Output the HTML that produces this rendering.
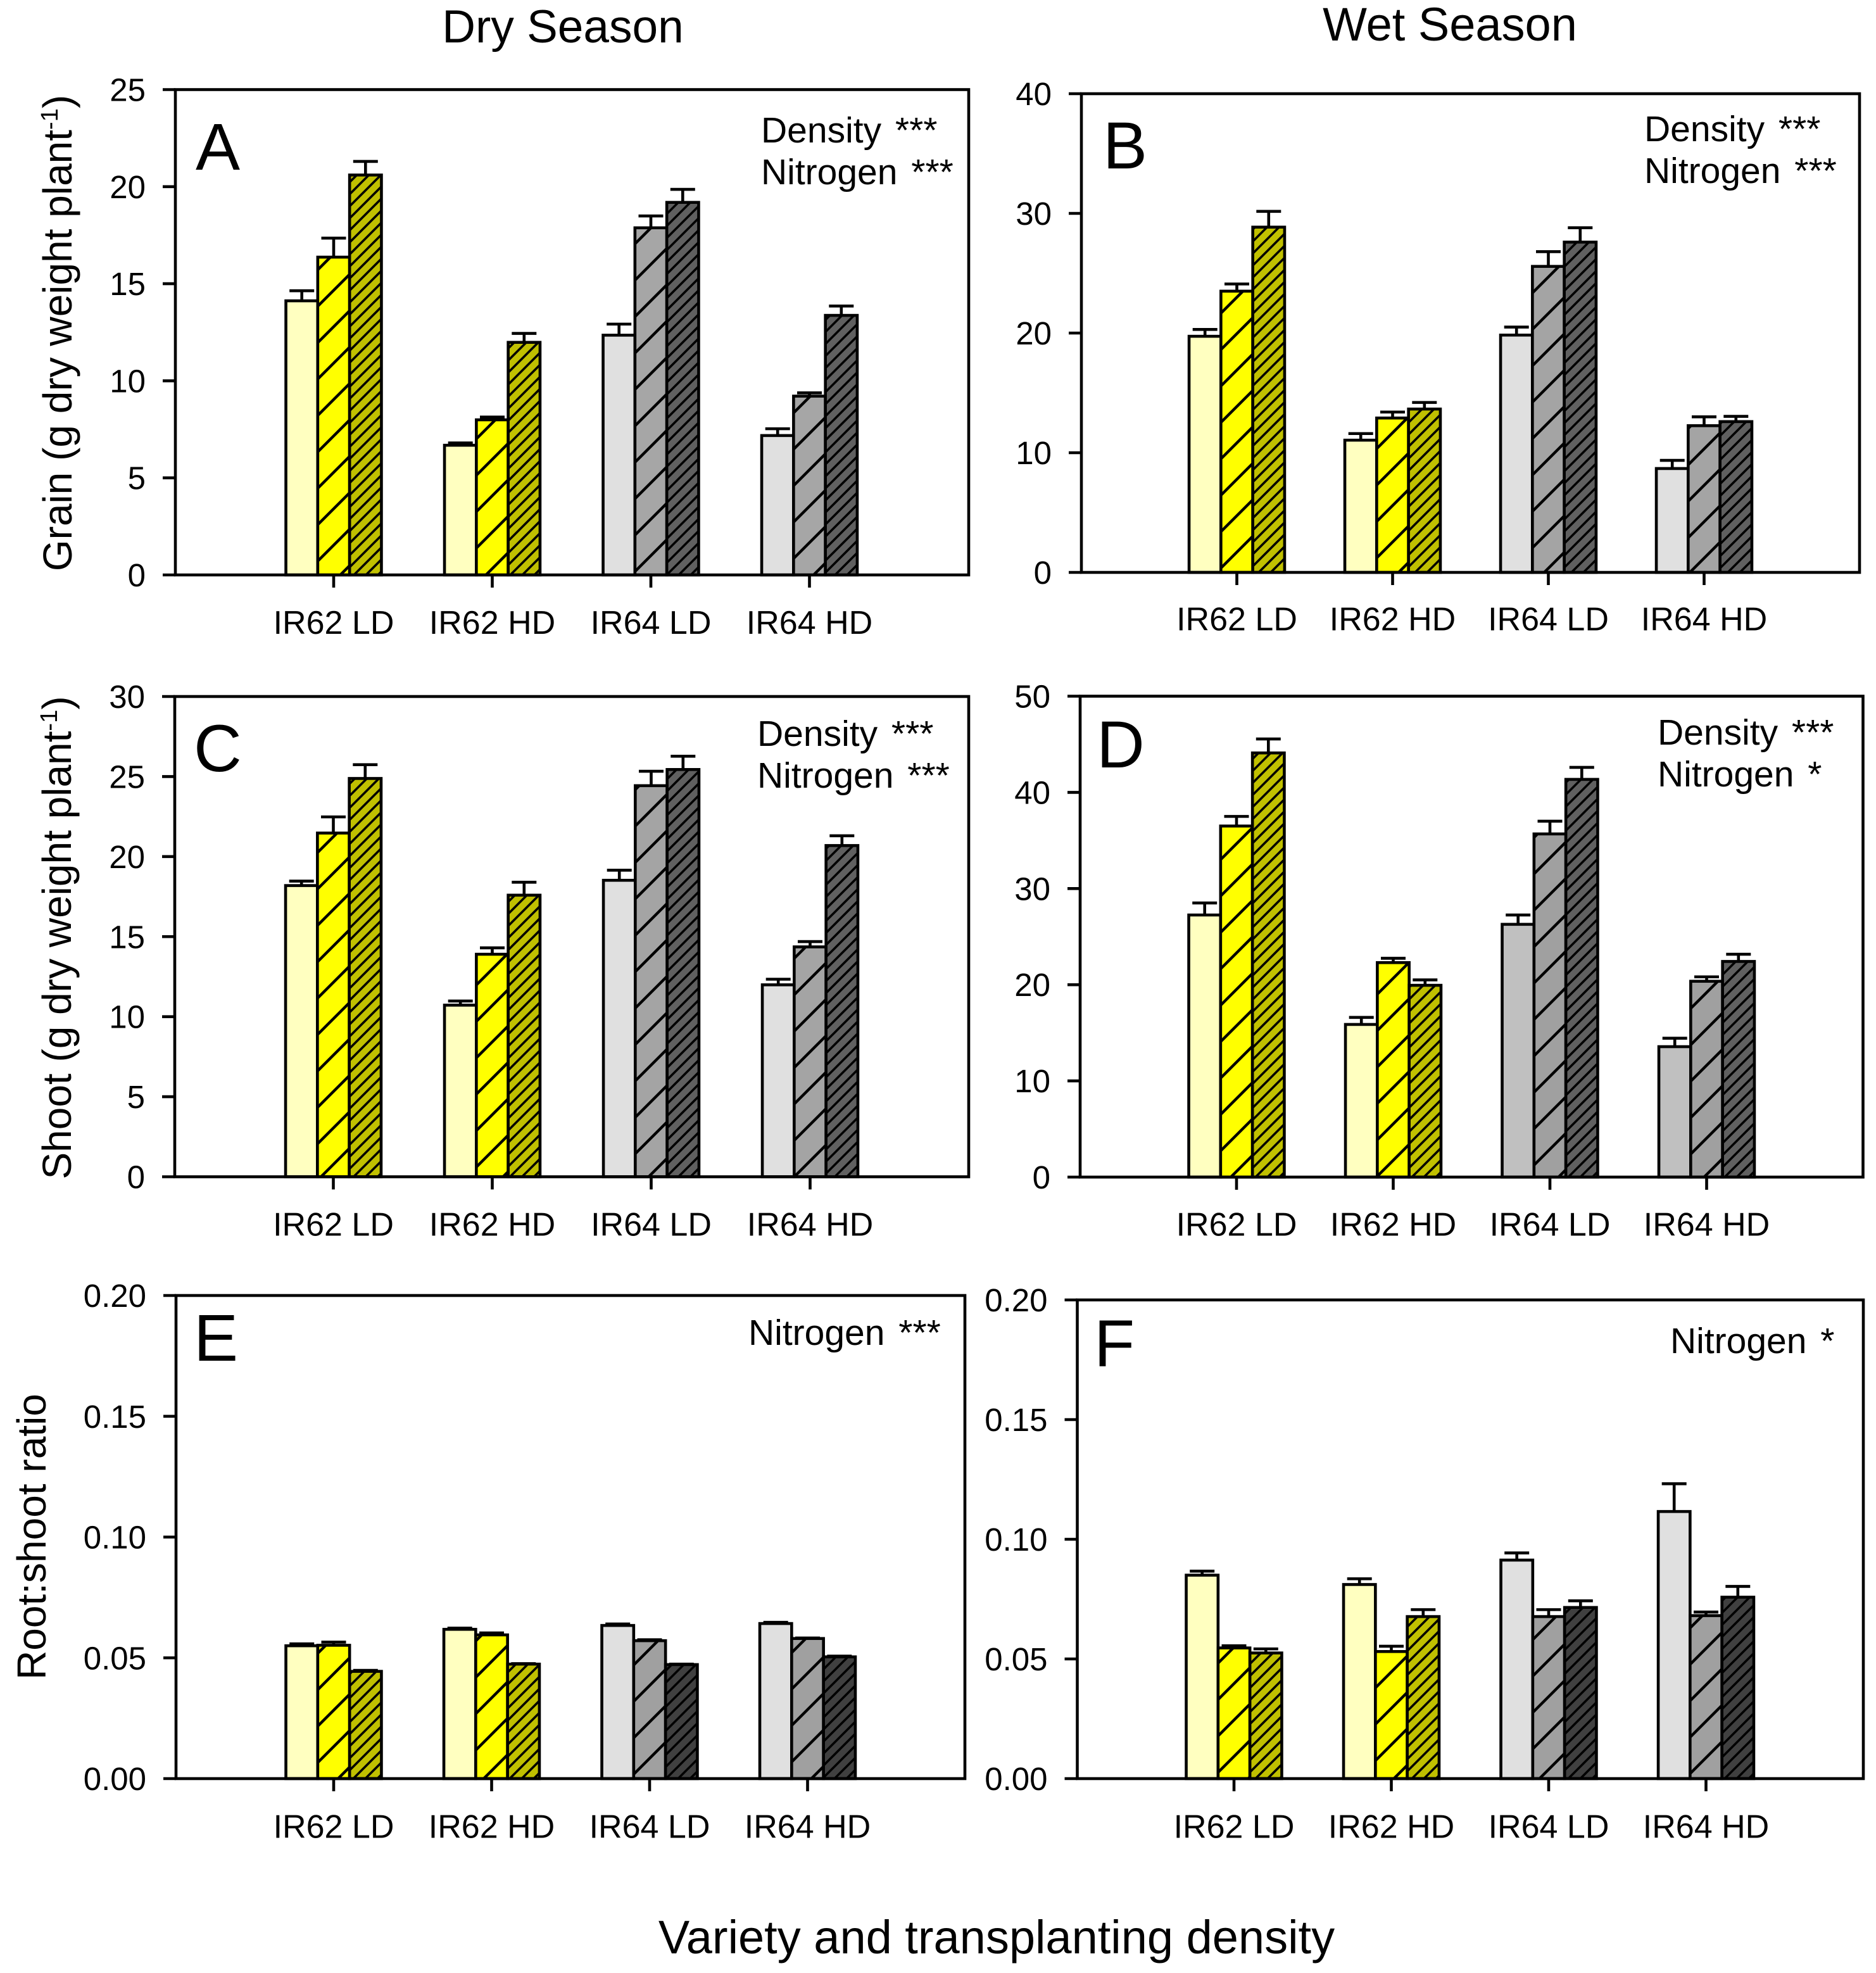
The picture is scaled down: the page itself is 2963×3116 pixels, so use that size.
<!DOCTYPE html>
<html lang="en">
<head>
<meta charset="utf-8">
<title>Grain, shoot and root:shoot ratio by variety and density</title>
<style>
html,body{margin:0;padding:0;background:#fff;width:2963px;height:3116px;overflow:hidden}
svg{display:block;position:absolute;left:0;top:0}
text{font-family:"Liberation Sans",Arial,sans-serif;fill:#000}
</style>
</head>
<body>
<svg id="figure" xmlns="http://www.w3.org/2000/svg" width="2963" height="3116" viewBox="0 0 2963 3116">
<rect width="2963" height="3116" fill="#fff"/>
<defs id="patterns"></defs>
<text x="889" y="67" font-size="73" text-anchor="middle">Dry Season</text>
<text x="2290" y="64" font-size="74" text-anchor="middle">Wet Season</text>
<text transform="translate(113 526) rotate(-90)" font-size="64" text-anchor="middle">Grain (g dry weight plant<tspan font-size="38" dy="-22">-1</tspan><tspan dy="22">)</tspan></text>
<text transform="translate(112 1481) rotate(-90)" font-size="64" text-anchor="middle">Shoot (g dry weight plant<tspan font-size="38" dy="-22">-1</tspan><tspan dy="22">)</tspan></text>
<text transform="translate(72 2427) rotate(-90)" font-size="64" text-anchor="middle">Root:shoot ratio</text>
<text x="1574" y="3085" font-size="74" text-anchor="middle">Variety and transplanting density</text>
<g id="panels"></g>
</svg>
<script>
// ---- categories and tick labels ----
const categories = ['IR62 LD', 'IR62 HD', 'IR64 LD', 'IR64 HD'];
const ticksA = ['0', '5', '10', '15', '20', '25'];
const ticksB = ['0', '10', '20', '30', '40'];
const ticksC = ['0', '5', '10', '15', '20', '25', '30'];
const ticksD = ['0', '10', '20', '30', '40', '50'];
const ticksE = ['0.00', '0.05', '0.10', '0.15', '0.20'];
const ticksF = ['0.00', '0.05', '0.10', '0.15', '0.20'];

// ---- bar means (per category: three nitrogen levels) ----
const meansA = [[14.12, 16.37, 20.6], [6.68, 7.99, 11.98], [12.35, 17.88, 19.19], [7.18, 9.21, 13.37]];
const meansB = [[19.73, 23.5, 28.85], [11.05, 12.9, 13.65], [19.83, 25.57, 27.6], [8.68, 12.26, 12.6]];
const meansC = [[18.19, 21.47, 24.88], [10.72, 13.9, 17.59], [18.52, 24.43, 25.44], [11.99, 14.36, 20.69]];
const meansD = [[27.25, 36.5, 44.1], [15.87, 22.3, 19.94], [26.28, 35.68, 41.35], [13.56, 20.36, 22.42]];
const meansE = [[0.055, 0.0552, 0.0444], [0.0618, 0.0595, 0.0474], [0.0634, 0.0571, 0.0472], [0.0642, 0.058, 0.0504]];
const meansF = [[0.085, 0.0546, 0.0525], [0.0811, 0.0531, 0.0677], [0.0913, 0.0677, 0.0715], [0.1116, 0.0681, 0.0758]];

// ---- standard errors (upper whisker length) ----
const errorsA = [[0.52, 0.98, 0.7], [0.12, 0.14, 0.46], [0.57, 0.61, 0.67], [0.35, 0.17, 0.48]];
const errorsB = [[0.57, 0.6, 1.32], [0.55, 0.5, 0.55], [0.67, 1.23, 1.2], [0.68, 0.74, 0.44]];
const errorsC = [[0.28, 1.01, 0.86], [0.26, 0.4, 0.81], [0.63, 0.9, 0.83], [0.35, 0.33, 0.61]];
const errorsD = [[1.25, 1.0, 1.45], [0.73, 0.45, 0.56], [0.97, 1.32, 1.25], [0.88, 0.46, 0.75]];
const errorsE = [[0.0008, 0.0013, 0.0004], [0.0005, 0.0008, 0.0002], [0.0006, 0.0004, 0.0002], [0.0005, 0.0002, 0.0003]];
const errorsF = [[0.0017, 0.0009, 0.0017], [0.0024, 0.0022, 0.0029], [0.003, 0.0029, 0.0028], [0.0116, 0.0015, 0.0045]];

// ---- annotations ----
const notesA = ['Density ***', 'Nitrogen ***'];
const notesB = ['Density ***', 'Nitrogen ***'];
const notesC = ['Density ***', 'Nitrogen ***'];
const notesD = ['Density ***', 'Nitrogen *'];
const notesE = ['Nitrogen ***'];
const notesF = ['Nitrogen *'];

// ---- layout ----
const BAR_W = 50.3;
const CAP_W = 39;
const SVG_NS = 'http://www.w3.org/2000/svg';
const yellows = ['#ffffc0', '#ffff00', '#c0c000'];
const panels = [
  {id:'a', letter:'A', lx:309,  ly:268,  L:277,  R:1530, T:141.5, B:908,  first:527,  step:250.5, ticks:ticksA, means:meansA, errors:errorsA, notes:notesA, nx:1202, ny:225,  grays:['#e0e0e0','#a6a6a6','#606060'], lblDy:93},
  {id:'b', letter:'B', lx:1742, ly:266,  L:1708, R:2937, T:148,   B:904,  first:1953.5,step:246,  ticks:ticksB, means:meansB, errors:errorsB, notes:notesB, nx:2597, ny:223,  grays:['#e0e0e0','#a4a4a4','#606060'], lblDy:91.5},
  {id:'c', letter:'C', lx:306,  ly:1218, L:276,  R:1530, T:1100,  B:1858.5,first:526.5,step:251,  ticks:ticksC, means:meansC, errors:errorsC, notes:notesC, nx:1196, ny:1178, grays:['#e0e0e0','#a4a4a4','#606060'], lblDy:93},
  {id:'d', letter:'D', lx:1732, ly:1212, L:1706, R:2942.5,T:1099.5,B:1859,first:1953, step:247.5, ticks:ticksD, means:meansD, errors:errorsD, notes:notesD, nx:2618, ny:1176, grays:['#c0c0c0','#a0a0a0','#606060'], lblDy:92.5},
  {id:'e', letter:'E', lx:306,  ly:2149, L:278,  R:1524, T:2046,  B:2809, first:527,  step:249.5, ticks:ticksE, means:meansE, errors:errorsE, notes:notesE, nx:1182, ny:2124, grays:['#e0e0e0','#a0a0a0','#404040'], lblDy:93.5},
  {id:'f', letter:'F', lx:1728, ly:2158, L:1701.5,R:2943,T:2053,  B:2809, first:1949, step:248.5, ticks:ticksF, means:meansF, errors:errorsF, notes:notesF, nx:2638, ny:2137, grays:['#e0e0e0','#a0a0a0','#404040'], lblDy:93.5}
];

function svgEl(tag, attrs) {
  const el = document.createElementNS(SVG_NS, tag);
  for (const k in attrs) el.setAttribute(k, attrs[k]);
  return el;
}

const defs = document.getElementById('patterns');
const root = document.getElementById('panels');
const made = {};
function hatch(color, spacing, phase, weight) {
  const id = 'h' + color.slice(1) + '-' + spacing;
  if (!made[id]) {
    made[id] = true;
    const p = svgEl('pattern', {id:id, patternUnits:'userSpaceOnUse', width:spacing, height:spacing, patternTransform:'translate(' + phase + ' 0)'});
    p.appendChild(svgEl('rect', {width:spacing, height:spacing, fill:color}));
    const s = spacing;
    p.appendChild(svgEl('path', {d:'M-2,2 L2,-2 M0,' + s + ' L' + s + ',0 M' + (s-2) + ',' + (s+2) + ' L' + (s+2) + ',' + (s-2), stroke:'#000', 'stroke-width':weight, fill:'none'}));
    defs.appendChild(p);
  }
  return 'url(#' + id + ')';
}

panels.forEach(function (P) {
  const yMax = parseFloat(P.ticks[P.ticks.length - 1]);
  const yScale = function (v) { return P.B - (v / yMax) * (P.B - P.T); };
  const xScale = function (i) { return P.first + i * P.step; };

  const g = svgEl('g', {});
  
  
  root.appendChild(g);

  // bars and error bars
  P.means.forEach(function (group, c) {
    group.forEach(function (val, s) {
      const cx = xScale(c) + (s - 1) * BAR_W;
      const top = yScale(val);
      const palette = c < 2 ? yellows : P.grays;
      let fill = palette[s];
      if (s === 1) fill = hatch(palette[s], 57.5, 8, 4.4);
      if (s === 2) fill = hatch(palette[s], 19, 4, 3.6);
      const cap = yScale(val + P.errors[c][s]);

      const whisker = svgEl('path', {d:'M' + cx + ',' + top + ' V' + cap + ' M' + (cx - CAP_W / 2) + ',' + cap + ' H' + (cx + CAP_W / 2), stroke:'#000', 'stroke-width':4.6, fill:'none'});
      
      
      g.appendChild(whisker);

      const bar = svgEl('rect', {x:cx - BAR_W / 2, y:top, width:BAR_W, height:P.B - top, fill:fill, stroke:'#000', 'stroke-width':4.6});
      
      
      g.appendChild(bar);
    });
  });

  // frame
  const frame = svgEl('rect', {x:P.L, y:P.T, width:P.R - P.L, height:P.B - P.T, fill:'none', stroke:'#000', 'stroke-width':4.6});
  
  
  g.appendChild(frame);

  // y ticks
  P.ticks.forEach(function (label) {
    const y = yScale(parseFloat(label));
    const t = svgEl('line', {x1:P.L - 20, x2:P.L, y1:y, y2:y, stroke:'#000', 'stroke-width':4.6});
    
    
    g.appendChild(t);
    const tx = svgEl('text', {x:P.L - 47, y:y + 18, 'font-size':51, 'text-anchor':'end'});
    
    
    tx.textContent = label;
    g.appendChild(tx);
  });

  // x ticks
  categories.forEach(function (label, i) {
    const x = xScale(i);
    const t = svgEl('line', {x1:x, x2:x, y1:P.B, y2:P.B + 20, stroke:'#000', 'stroke-width':4.6});
    
    
    g.appendChild(t);
    const tx = svgEl('text', {x:x, y:P.B + P.lblDy, 'font-size':52, 'text-anchor':'middle'});
    
    
    tx.textContent = label;
    g.appendChild(tx);
  });

  // panel letter
  const letter = svgEl('text', {x:P.lx, y:P.ly, 'font-size':105});
  
  
  letter.textContent = P.letter;
  g.appendChild(letter);

  // significance notes
  P.notes.forEach(function (note, i) {
    const n = svgEl('text', {x:P.nx, y:P.ny + i * 66, 'font-size':57, 'word-spacing':6});
    
    
    n.textContent = note;
    g.appendChild(n);
  });
});
</script>
</body>
</html>
